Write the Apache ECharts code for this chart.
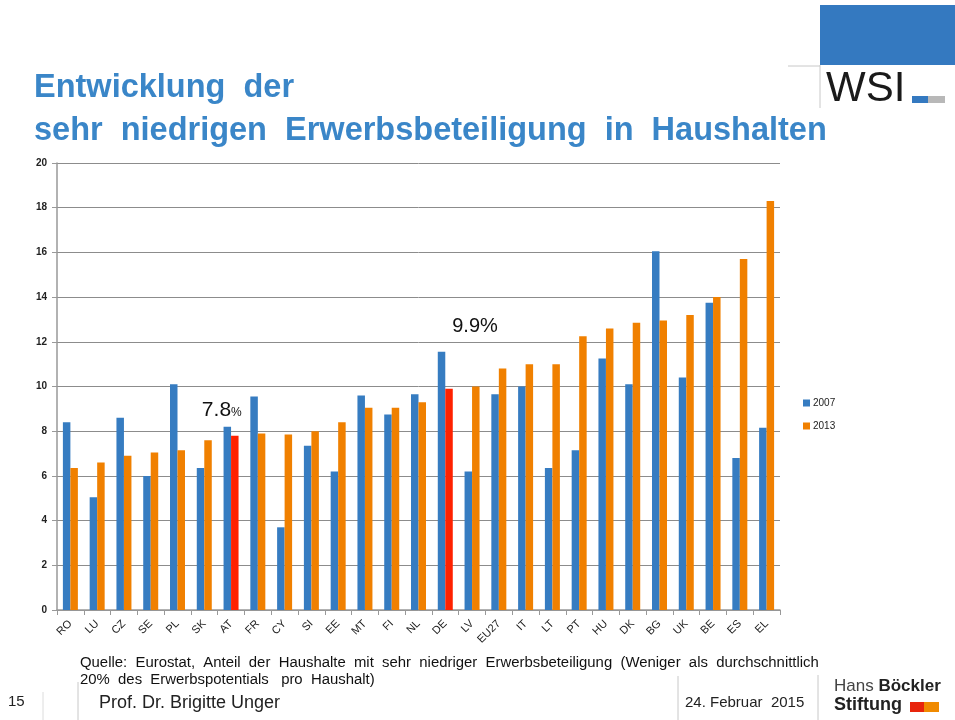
<!DOCTYPE html>
<html>
<head>
<meta charset="utf-8">
<script src="https://cdn.jsdelivr.net/npm/echarts@6/dist/echarts.min.js"></script>
<style>
  html, body { margin: 0; padding: 0; background: #fff; }
  #chart { width: 955px; height: 720px; }
</style>
</head>
<body>
<div id="chart"></div>
<script>
const countries = ["RO", "LU", "CZ", "SE", "PL", "SK", "AT", "FR", "CY", "SI", "EE", "MT", "FI", "NL",
  "DE", "LV", "EU27", "IT", "LT", "PT", "HU", "DK", "BG", "UK", "BE", "ES", "EL"];
const values2007 = [8.4, 5.05, 8.6, 6.0, 10.1, 6.35, 8.2, 9.55, 3.7, 7.35, 6.2, 9.6, 8.75, 9.65,
  11.55, 6.2, 9.65, 10.0, 6.35, 7.15, 11.25, 10.1, 16.05, 10.4, 13.75, 6.8, 8.15];
const values2013 = [6.35, 6.6, 6.9, 7.05, 7.15, 7.6, 7.8, 7.9, 7.85, 8.0, 8.4, 9.05, 9.05, 9.3,
  9.9, 10.0, 10.8, 11.0, 11.0, 12.25, 12.6, 12.85, 12.95, 13.2, 14.0, 15.7, 18.3];
const seriesNames = ["2007", "2013"];
// bars marked in red, with their callout text
const highlights = { AT: "7.8", DE: "9.9" };

const blue = "#367cc1";
const orange = "#f08000";
const red = "#ff2200";
const font = "Liberation Sans";

const data2013 = values2013.map((v, i) => {
  const c = countries[i];
  if (!highlights[c]) return v;
  const big = c === "DE";
  return {
    value: v,
    itemStyle: { color: red },
    label: {
      show: true,
      position: "top",
      offset: big ? [26, -47] : [-13, -10],
      formatter: big ? highlights[c] + "%" : "{n|" + highlights[c] + "}{p|%}",
      fontFamily: font,
      fontSize: 20,
      color: "#111",
      rich: {
        n: { fontFamily: font, fontSize: 21, color: "#111" },
        p: { fontFamily: font, fontSize: 12, color: "#111", padding: [6, 0, 0, 0] },
      },
    },
  };
});

const chart = echarts.init(document.getElementById("chart"));
chart.setOption({
  animation: false,
  textStyle: { fontFamily: font },
  grid: { left: 57, right: 175, top: 163, bottom: 110 },
  legend: {
    orient: "vertical",
    left: 798,
    top: 393,
    itemWidth: 7,
    itemHeight: 7,
    itemGap: 13,
    icon: "rect",
    data: seriesNames,
    textStyle: { fontFamily: font, fontSize: 10, color: "#222", padding: [0, 0, 0, -2] },
  },
  xAxis: {
    type: "category",
    data: countries,
    axisLine: { lineStyle: { color: "#999", width: 1.5 } },
    axisTick: { show: true, length: 5, lineStyle: { color: "#999" } },
    axisLabel: { rotate: 45, interval: 0, fontSize: 11, color: "#222", margin: 12 },
  },
  yAxis: {
    type: "value",
    min: 0,
    max: 20,
    interval: 2,
    axisLine: { show: true, lineStyle: { color: "#999", width: 1.5 } },
    axisTick: { show: true, length: 5, lineStyle: { color: "#999" } },
    splitLine: { lineStyle: { color: "#8c8c8c", width: 1 } },
    axisLabel: { fontSize: 10, color: "#222", margin: 10, fontWeight: "bold" },
  },
  series: [
    { name: seriesNames[0], type: "bar", data: values2007, barGap: "0%", barCategoryGap: "44%",
      itemStyle: { color: blue } },
    { name: seriesNames[1], type: "bar", data: data2013, itemStyle: { color: orange } },
  ],
  graphic: [
    // WSI logo
    { type: "rect", shape: { x: 820, y: 5, width: 135, height: 60 }, style: { fill: "#3479c0" } },
    { type: "line", shape: { x1: 788, y1: 66, x2: 820, y2: 66 }, style: { stroke: "#c8c8c8", lineWidth: 1 } },
    { type: "line", shape: { x1: 820, y1: 65, x2: 820, y2: 108 }, style: { stroke: "#c8c8c8", lineWidth: 1 } },
    { type: "text", left: 826, top: 68, style: { text: "WSI", font: "42px Liberation Sans", fill: "#1a1a1a" } },
    { type: "rect", shape: { x: 912, y: 96, width: 16, height: 7 }, style: { fill: "#3479c0" } },
    { type: "rect", shape: { x: 928, y: 96, width: 17, height: 7 }, style: { fill: "#b8b8b8" } },
    // title
    { type: "text", left: 34, top: 72, style: { text: "Entwicklung  der",
      font: "bold 32.5px Liberation Sans", fill: "#3a86c8" } },
    { type: "text", left: 34, top: 115, style: { text: "sehr  niedrigen  Erwerbsbeteiligung  in  Haushalten",
      font: "bold 32.5px Liberation Sans", fill: "#3a86c8" } },
    // footer
    { type: "text", left: 80, top: 654, style: {
      text: "Quelle:  Eurostat,  Anteil  der  Haushalte  mit  sehr  niedriger  Erwerbsbeteiligung  (Weniger  als  durchschnittlich\n20%  des  Erwerbspotentials   pro  Haushalt)",
      font: "14.9px Liberation Sans", fill: "#111", lineHeight: 17 } },
    { type: "text", left: 8, top: 694, style: { text: "15", font: "15px Liberation Sans", fill: "#222" } },
    { type: "line", shape: { x1: 43, y1: 692, x2: 43, y2: 720 }, style: { stroke: "#dcdcdc", lineWidth: 1 } },
    { type: "line", shape: { x1: 78, y1: 682, x2: 78, y2: 720 }, style: { stroke: "#c8c8c8", lineWidth: 1 } },
    { type: "text", left: 99, top: 694, style: { text: "Prof. Dr. Brigitte Unger", font: "18px Liberation Sans", fill: "#222" } },
    { type: "line", shape: { x1: 678, y1: 676, x2: 678, y2: 720 }, style: { stroke: "#c8c8c8", lineWidth: 1 } },
    { type: "text", left: 685, top: 695, style: { text: "24. Februar  2015", font: "15px Liberation Sans", fill: "#222" } },
    { type: "line", shape: { x1: 818, y1: 675, x2: 818, y2: 720 }, style: { stroke: "#c8c8c8", lineWidth: 1 } },
    { type: "text", left: 834, top: 678, style: { text: "{r|Hans }{b|Böckler}",
      rich: { r: { font: "17px Liberation Sans", fill: "#444" }, b: { font: "bold 17px Liberation Sans", fill: "#222" } } } },
    { type: "text", left: 834, top: 696, style: { text: "Stiftung", font: "bold 18px Liberation Sans", fill: "#222" } },
    { type: "rect", shape: { x: 910, y: 702, width: 14, height: 10 }, style: { fill: "#e8250c" } },
    { type: "rect", shape: { x: 924, y: 702, width: 15, height: 10 }, style: { fill: "#f08a00" } },
  ],
});
</script>
</body>
</html>
